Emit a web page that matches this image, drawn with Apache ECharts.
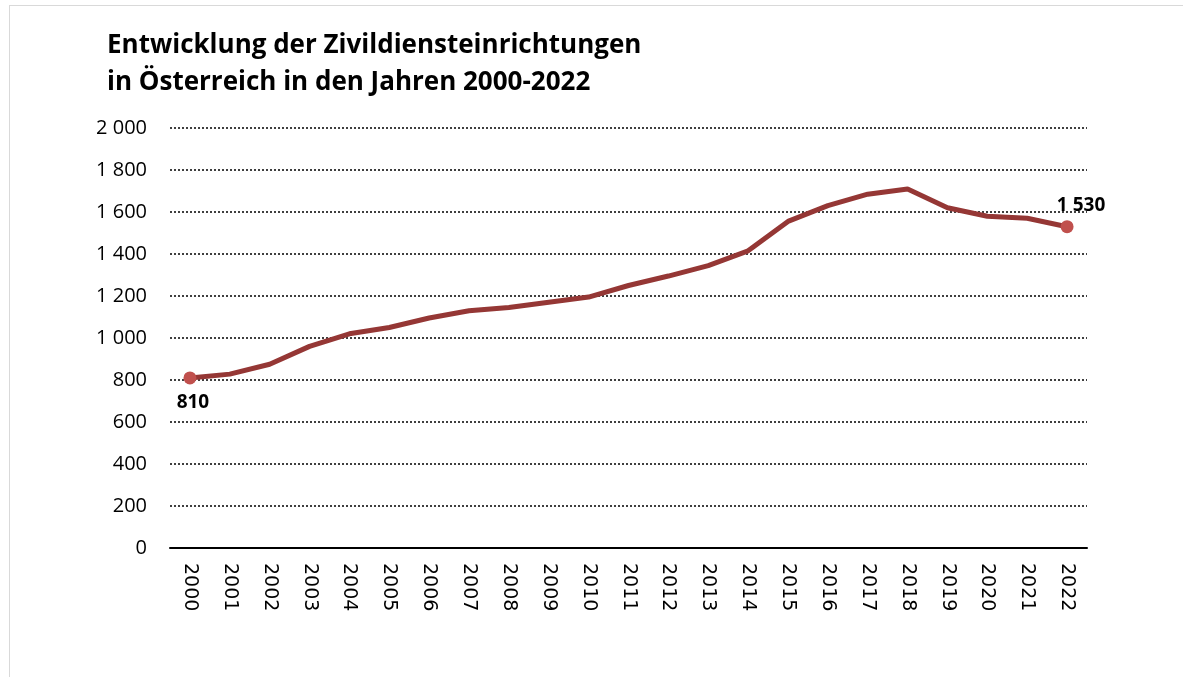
<!DOCTYPE html>
<html>
<head>
<meta charset="utf-8">
<script src="https://cdn.jsdelivr.net/npm/echarts@6/dist/echarts.min.js"></script>
<style>
  html, body { margin: 0; padding: 0; background: #fff; }
  #frame { position: absolute; left: 9px; top: 5px; width: 1180px; height: 680px; border: 1px solid #d9d9d9; box-sizing: border-box; }
  #chart { width: 1183px; height: 677px; }
</style>
</head>
<body>
<div id="frame"></div>
<div id="chart"></div>
<script>
var years = ['2000','2001','2002','2003','2004','2005','2006','2007','2008','2009','2010',
             '2011','2012','2013','2014','2015','2016','2017','2018','2019','2020','2021','2022'];
var einrichtungen = [810, 828, 875, 960, 1020, 1050, 1095, 1130, 1145, 1170, 1195,
                     1250, 1295, 1345, 1415, 1555, 1630, 1685, 1710, 1620, 1580, 1570, 1530];

function fmt(v) {
  return String(v).replace(/\B(?=(\d{3})+(?!\d))/g, ' ');
}

var myChart = echarts.init(document.getElementById('chart'));

var seriesData = einrichtungen.map(function (v, i) {
  if (i === 0) {
    return { value: v, symbol: 'circle', symbolSize: 13,
      label: { show: true, position: 'bottom', offset: [3, 4] } };
  }
  if (i === einrichtungen.length - 1) {
    return { value: v, symbol: 'circle', symbolSize: 13,
      label: { show: true, position: 'top', offset: [14, 0] } };
  }
  return { value: v, symbol: 'none' };
});

option = {
  animation: false,
  title: {
    text: 'Entwicklung der Zivildiensteinrichtungen\nin Österreich in den Jahren 2000-2022',
    left: 102,
    top: 22,
    textStyle: {
      fontFamily: 'Open Sans',
      fontWeight: 'bold',
      fontSize: 26,
      lineHeight: 37,
      color: '#000'
    }
  },
  grid: { left: 170, right: 96, top: 128, bottom: 129 },
  xAxis: {
    type: 'category',
    data: years,
    boundaryGap: true,
    axisLine: { lineStyle: { color: '#000', width: 2 } },
    axisTick: { show: false },
    axisLabel: {
      rotate: -90,
      color: '#000',
      fontFamily: 'DejaVu Sans',
      fontSize: 19,
      margin: 15,
      interval: 0
    }
  },
  yAxis: {
    type: 'value',
    min: 0,
    max: 2000,
    interval: 200,
    axisLine: { show: false },
    axisTick: { show: false },
    axisLabel: {
      color: '#000',
      fontFamily: 'Open Sans',
      fontSize: 20,
      margin: 23,
      formatter: fmt
    },
    splitLine: { lineStyle: { color: '#000', type: [2, 2], width: 1.5 } }
  },
  series: [{
    type: 'line',
    data: seriesData,
    showSymbol: true,
    lineStyle: { color: '#953735', width: 5 },
    itemStyle: { color: '#C0504D' },
    label: {
      color: '#000',
      fontFamily: 'Open Sans',
      fontWeight: 'bold',
      fontSize: 19,
      formatter: function (p) { return fmt(p.value); }
    }
  }]
};

myChart.setOption(option);
</script>
</body>
</html>
